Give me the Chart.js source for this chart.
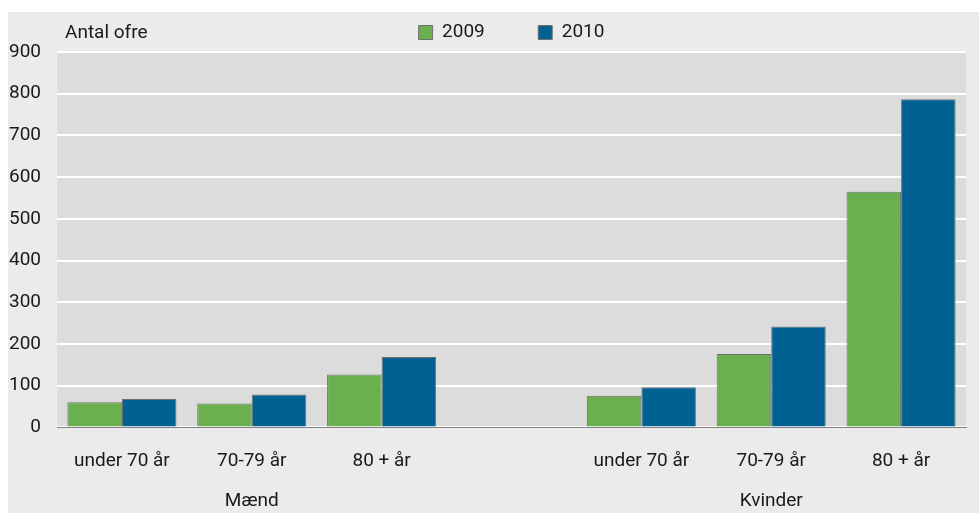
<!DOCTYPE html>
<html>
<head>
<meta charset="utf-8">
<script src="https://cdn.jsdelivr.net/npm/chart.js@4"></script>
<style>
  body { margin: 0; background: #fff; }
  #wrap { position: absolute; left: 8px; top: 12px; width: 971px; height: 501px; background: #ebebeb; }
</style>
</head>
<body>
<div id="wrap"><canvas id="bar-chart"></canvas></div>
<script>
var ageLabels = ["under 70 år", "70-79 år", "80 + år", "", "under 70 år", "70-79 år", "80 + år"];
var groupLabels = ["", "Mænd", "", "", "", "Kvinder", ""];
var values2009 = [60, 57, 127, null, 76, 176, 565];
var values2010 = [68, 79, 169, null, 96, 242, 787];
var yTicks = [0, 100, 200, 300, 400, 500, 600, 700, 800, 900];

var fontFamily = "Roboto, 'Open Sans', sans-serif";
Chart.defaults.font.family = fontFamily;
Chart.defaults.color = "#1a1a1a";

// plot area background + "Antal ofre" caption
var panel = {
  id: "panel",
  beforeDraw: function (chart) {
    var a = chart.chartArea, ctx = chart.ctx;
    ctx.save();
    ctx.fillStyle = "#dcdcdc";
    ctx.fillRect(a.left, a.top, a.right - a.left, a.bottom - a.top);
    ctx.restore();
  },
  afterDraw: function (chart) {
    var ctx = chart.ctx;
    ctx.save();
    ctx.font = "19px " + fontFamily;
    ctx.fillStyle = "#1a1a1a";
    ctx.textBaseline = "middle";
    ctx.fillText("Antal ofre", 57, 21);
    ctx.restore();
  }
};

new Chart(document.getElementById("bar-chart"), {
  type: 'bar',
  data: {
    labels: ageLabels,
    datasets: [{
      label: "2009",
      data: values2009,
      backgroundColor: "#6ab04f",
      borderColor: "#6f6f6f",
      borderWidth: 1
    }, {
      label: "2010",
      data: values2010,
      backgroundColor: "#006192",
      borderColor: "#6f6f6f",
      borderWidth: 1
    }]
  },
  options: {
    responsive: true,
    maintainAspectRatio: false,
    animation: false,
    layout: { padding: { left: 0, right: 13, top: 0, bottom: 0 } },
    categoryPercentage: 0.84,
    barPercentage: 1.0,
    plugins: {
      legend: {
        display: true,
        fullSize: false,
        labels: {
          boxWidth: 14,
          boxHeight: 14,
          padding: 11,
          font: { size: 19 },
          color: "#1a1a1a",
          generateLabels: function (chart) {
            var items = Chart.defaults.plugins.legend.labels.generateLabels(chart);
            items[0].text = items[0].text + "         ";
            return items;
          }
        }
      },
      tooltip: { enabled: false },
      title: { display: false }
    },
    scales: {
      x: {
        grid: { display: false, drawTicks: true, tickLength: 4 },
        border: { display: true, color: "#808080", width: 1 },
        ticks: { font: { size: 19 }, padding: 18, maxRotation: 0, autoSkip: false }
      },
      x2: {
        type: 'category',
        labels: groupLabels,
        position: 'bottom',
        grid: { display: false, drawTicks: false },
        border: { display: false },
        ticks: { font: { size: 19 }, padding: 0, maxRotation: 0, autoSkip: false }
      },
      y: {
        min: 0,
        max: 900,
        afterBuildTicks: function (axis) { axis.ticks = yTicks.map(function (v) { return { value: v }; }); },
        afterFit: function (axis) { axis.width = 49; },
        grid: { color: "#ffffff", lineWidth: 2, drawTicks: false },
        border: { display: false },
        ticks: { font: { size: 19 }, padding: 16 }
      }
    }
  },
  plugins: [panel]
});
</script>
</body>
</html>
